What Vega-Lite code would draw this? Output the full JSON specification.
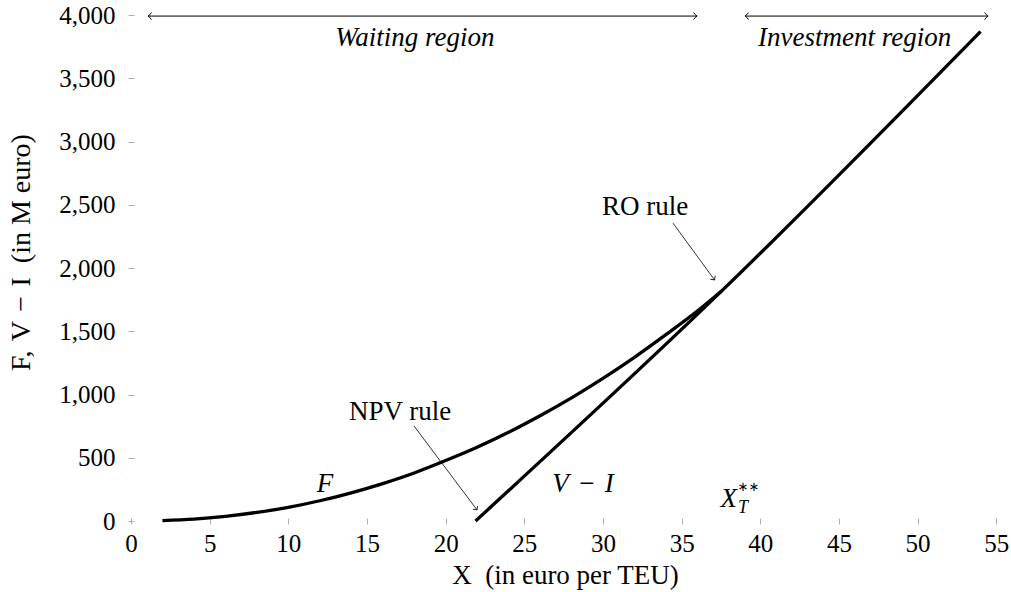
{
  "$schema": "https://vega.github.io/schema/vega-lite/v6.json",
  "width": 881,
  "height": 511,
  "autosize": {"type": "none"},
  "padding": {"left": 131, "top": 10, "right": 0, "bottom": 71},
  "background": "white",
  "config": {"view": {"stroke": null}, "font": "Liberation Serif"},
  "datasets": {
    "curves": [
      {"series": "F", "x": 2, "y": 3.5},
      {"series": "F", "x": 4, "y": 15},
      {"series": "F", "x": 6, "y": 37},
      {"series": "F", "x": 8, "y": 68},
      {"series": "F", "x": 10, "y": 108},
      {"series": "F", "x": 12, "y": 160},
      {"series": "F", "x": 14, "y": 223},
      {"series": "F", "x": 16, "y": 296},
      {"series": "F", "x": 18, "y": 380},
      {"series": "F", "x": 20, "y": 478},
      {"series": "F", "x": 22, "y": 583},
      {"series": "F", "x": 24, "y": 701},
      {"series": "F", "x": 26, "y": 832},
      {"series": "F", "x": 28, "y": 974},
      {"series": "F", "x": 30, "y": 1128},
      {"series": "F", "x": 32, "y": 1294},
      {"series": "F", "x": 34, "y": 1473},
      {"series": "F", "x": 36, "y": 1660},
      {"series": "F", "x": 37.6, "y": 1825},
      {"series": "V-I", "x": 21.9, "y": 0},
      {"series": "V-I", "x": 37.6, "y": 1825},
      {"series": "V-I", "x": 54, "y": 3870}
    ],
    "spans": [
      {"x": 1.08, "x2": 35.98, "y": 3992},
      {"x": 39.03, "x2": 54.48, "y": 3992}
    ]
  },
  "layer": [
    {
      "data": {"name": "curves"},
      "mark": {"type": "line", "color": "black", "strokeWidth": 3.3, "interpolate": "monotone"},
      "encoding": {
        "x": {
          "field": "x", "type": "quantitative",
          "scale": {"domain": [0, 56], "nice": false, "zero": false},
          "axis": {
            "values": [0, 5, 10, 15, 20, 25, 30, 35, 40, 45, 50, 55],
            "format": ",d", "domain": false, "grid": false, "offset": -3,
            "tickSize": 6, "tickColor": "#999999", "tickWidth": 0.8,
            "labelFontSize": 25, "labelColor": "black", "labelPadding": 7,
            "labelFont": "Liberation Serif", "labelFlush": false, "labelOverlap": false,
            "title": "X\u2002(in euro per TEU)", "titleFontSize": 27, "titleFontWeight": "normal",
            "titleFont": "Liberation Serif", "titleColor": "black",
            "titleX": 434, "titleY": 57, "titleBaseline": "middle", "titleAlign": "center"
          }
        },
        "y": {
          "field": "y", "type": "quantitative",
          "scale": {"domain": [0, 4040], "nice": false, "zero": false},
          "axis": {
            "values": [0, 500, 1000, 1500, 2000, 2500, 3000, 3500, 4000],
            "format": ",d", "domain": false, "grid": false, "offset": -3,
            "tickSize": 6, "tickColor": "#999999", "tickWidth": 0.8,
            "labelFontSize": 25, "labelColor": "black", "labelPadding": 13,
            "labelFont": "Liberation Serif", "labelFlush": false, "labelOverlap": false,
            "title": "F,\u2004V\u2004−\u2004I\u2002(in M euro)", "titleFontSize": 28, "titleFontWeight": "normal",
            "titleFont": "Liberation Serif", "titleColor": "black",
            "titleX": -113, "titleY": 242, "titleBaseline": "middle", "titleAlign": "center", "titleAngle": -90
          }
        },
        "detail": {"field": "series"}
      }
    },
    {
      "mark": {"type": "rule", "color": "black", "strokeWidth": 1, "strokeDash": [5, 4]},
      "encoding": {"x": {"datum": 37.6}}
    },
    {
      "mark": {"type": "rule", "color": "black", "strokeWidth": 1},
      "encoding": {"y": {"datum": 0}}
    },
    {
      "mark": {"type": "rule", "color": "black", "strokeWidth": 1},
      "encoding": {"x": {"datum": 0}}
    },
    {
      "mark": {"type": "point", "shape": "M0,0 L-2,-0.8 L-1.4,0 L-2,0.8 Z", "filled": true, "color": "black", "size": 40, "opacity": 1},
      "encoding": {"x": {"datum": 55.93}, "y": {"datum": 0}}
    },
    {
      "mark": {"type": "point", "shape": "M0,0 L-2,-0.8 L-1.4,0 L-2,0.8 Z", "filled": true, "color": "black", "size": 40, "opacity": 1, "angle": -90},
      "encoding": {"x": {"datum": 0}, "y": {"datum": 4040}}
    },
    {
      "data": {"name": "spans"},
      "mark": {"type": "rule", "color": "black", "strokeWidth": 1},
      "encoding": {
        "x": {"field": "x", "type": "quantitative"},
        "x2": {"field": "x2"},
        "y": {"field": "y", "type": "quantitative"}
      }
    },
    {
      "data": {"name": "spans"},
      "mark": {"type": "point", "shape": "M-1,-1 Q-0.4,-0.2 0,0 Q-0.4,0.2 -1,1", "filled": false, "color": "black", "strokeWidth": 1, "size": 49, "opacity": 1, "angle": 180},
      "encoding": {
        "x": {"field": "x", "type": "quantitative"},
        "y": {"field": "y", "type": "quantitative"}
      }
    },
    {
      "data": {"name": "spans"},
      "mark": {"type": "point", "shape": "M-1,-1 Q-0.4,-0.2 0,0 Q-0.4,0.2 -1,1", "filled": false, "color": "black", "strokeWidth": 1, "size": 49, "opacity": 1},
      "encoding": {
        "x": {"field": "x2", "type": "quantitative"},
        "y": {"field": "y", "type": "quantitative"}
      }
    },
    {
      "data": {"values": [{"x": 17.99, "y": 751, "x2": 22.0, "y2": 87}]},
      "mark": {"type": "rule", "color": "black", "strokeWidth": 0.8},
      "encoding": {
        "x": {"field": "x", "type": "quantitative"},
        "y": {"field": "y", "type": "quantitative"},
        "x2": {"field": "x2"},
        "y2": {"field": "y2"}
      }
    },
    {
      "data": {"values": [{"x": 22.0, "y": 87}]},
      "mark": {"type": "point", "shape": "M-1,-1 Q-0.4,-0.2 0,0 Q-0.4,0.2 -1,1", "filled": false, "color": "black", "strokeWidth": 0.8, "size": 36, "opacity": 1, "angle": 53.5},
      "encoding": {
        "x": {"field": "x", "type": "quantitative"},
        "y": {"field": "y", "type": "quantitative"}
      }
    },
    {
      "data": {"values": [{"x": 34.45, "y": 2355, "x2": 37.1, "y2": 1905}]},
      "mark": {"type": "rule", "color": "black", "strokeWidth": 0.8},
      "encoding": {
        "x": {"field": "x", "type": "quantitative"},
        "y": {"field": "y", "type": "quantitative"},
        "x2": {"field": "x2"},
        "y2": {"field": "y2"}
      }
    },
    {
      "data": {"values": [{"x": 37.1, "y": 1905}]},
      "mark": {"type": "point", "shape": "M-1,-1 Q-0.4,-0.2 0,0 Q-0.4,0.2 -1,1", "filled": false, "color": "black", "strokeWidth": 0.8, "size": 36, "opacity": 1, "angle": 53.5},
      "encoding": {
        "x": {"field": "x", "type": "quantitative"},
        "y": {"field": "y", "type": "quantitative"}
      }
    },
    {
      "data": {"values": [
        {"x": 18.05, "y": 3818, "label": "Waiting region"},
        {"x": 46.0, "y": 3818, "label": "Investment region"},
        {"x": 12.33, "y": 292, "label": "F"},
        {"x": 28.73, "y": 292, "label": "V\u2004−\u2004I"},
        {"x": 38.0, "y": 175, "label": "X"}
      ]},
      "mark": {"type": "text", "font": "Liberation Serif", "fontStyle": "italic", "fontSize": 27, "color": "black", "baseline": "middle", "align": "center"},
      "encoding": {
        "x": {"field": "x", "type": "quantitative"},
        "y": {"field": "y", "type": "quantitative"},
        "text": {"field": "label"}
      }
    },
    {
      "data": {"values": [{"x": 38.9, "y": 105, "label": "T"}]},
      "mark": {"type": "text", "font": "Liberation Serif", "fontStyle": "italic", "fontSize": 18, "color": "black", "baseline": "middle", "align": "center"},
      "encoding": {
        "x": {"field": "x", "type": "quantitative"},
        "y": {"field": "y", "type": "quantitative"},
        "text": {"field": "label"}
      }
    },
    {
      "data": {"values": [{"x": 39.25, "y": 270, "label": "∗∗"}]},
      "mark": {"type": "text", "font": "DejaVu Sans", "fontSize": 13, "color": "black", "baseline": "middle", "align": "center"},
      "encoding": {
        "x": {"field": "x", "type": "quantitative"},
        "y": {"field": "y", "type": "quantitative"},
        "text": {"field": "label"}
      }
    },
    {
      "data": {"values": [
        {"x": 17.1, "y": 862, "label": "NPV rule"},
        {"x": 32.68, "y": 2482, "label": "RO rule"}
      ]},
      "mark": {"type": "text", "font": "Liberation Serif", "fontSize": 27, "color": "black", "baseline": "middle", "align": "center"},
      "encoding": {
        "x": {"field": "x", "type": "quantitative"},
        "y": {"field": "y", "type": "quantitative"},
        "text": {"field": "label"}
      }
    }
  ]
}
